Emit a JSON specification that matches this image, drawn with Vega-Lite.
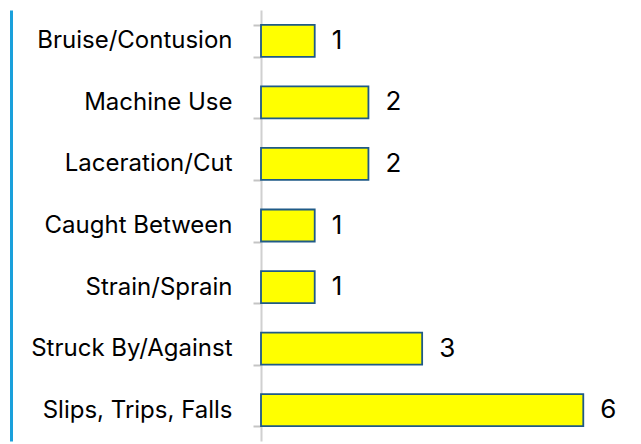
{
  "$schema": "https://vega.github.io/schema/vega-lite/v6.json",
  "autosize": "none",
  "width": 376,
  "height": 431,
  "padding": {"left": 261, "top": 10, "right": 4, "bottom": 3},
  "background": "white",
  "config": {"view": {"stroke": null}, "font": "Inter"},
  "data": {
    "values": [
      {"type": "Bruise/Contusion", "count": 1},
      {"type": "Machine Use", "count": 2},
      {"type": "Laceration/Cut", "count": 2},
      {"type": "Caught Between", "count": 1},
      {"type": "Strain/Sprain", "count": 1},
      {"type": "Struck By/Against", "count": 3},
      {"type": "Slips, Trips, Falls", "count": 6}
    ]
  },
  "encoding": {
    "y": {"field": "type", "type": "nominal", "sort": null,
      "scale": {"paddingInner": 0.48, "paddingOuter": 0.24}},
    "x": {"field": "count", "type": "quantitative", "scale": {"domain": [0, 7]}, "axis": null}
  },
  "layer": [
    {
      "mark": {"type": "bar", "fill": "#ffff00", "stroke": "#1f5a87", "strokeWidth": 1.8},
      "encoding": {
        "y": {"field": "type", "type": "nominal", "sort": null,
          "axis": {"title": null, "domainColor": "#d0d0d0", "domainWidth": 2, "ticks": true, "tickColor": "#c4c4c4", "tickWidth": 2,
            "tickSize": 8, "tickBand": "extent", "labelPadding": 21, "labelFontSize": 24, "labelColor": "#000000",
            "labelLimit": 300, "labelFont": "Inter"}}
      }
    },
    {
      "mark": {"type": "text", "align": "left", "baseline": "middle", "dx": 17, "fontSize": 26, "font": "Inter", "color": "#000000"},
      "encoding": {
        "text": {"field": "count", "type": "quantitative"},
        "y": {"field": "type", "type": "nominal", "sort": null,
          "axis": {"orient": "left", "offset": 250, "title": null, "labels": false, "ticks": false,
            "domainColor": "#1aa0db", "domainWidth": 3}}
      }
    }
  ],
  "resolve": {"axis": {"y": "independent"}}
}
